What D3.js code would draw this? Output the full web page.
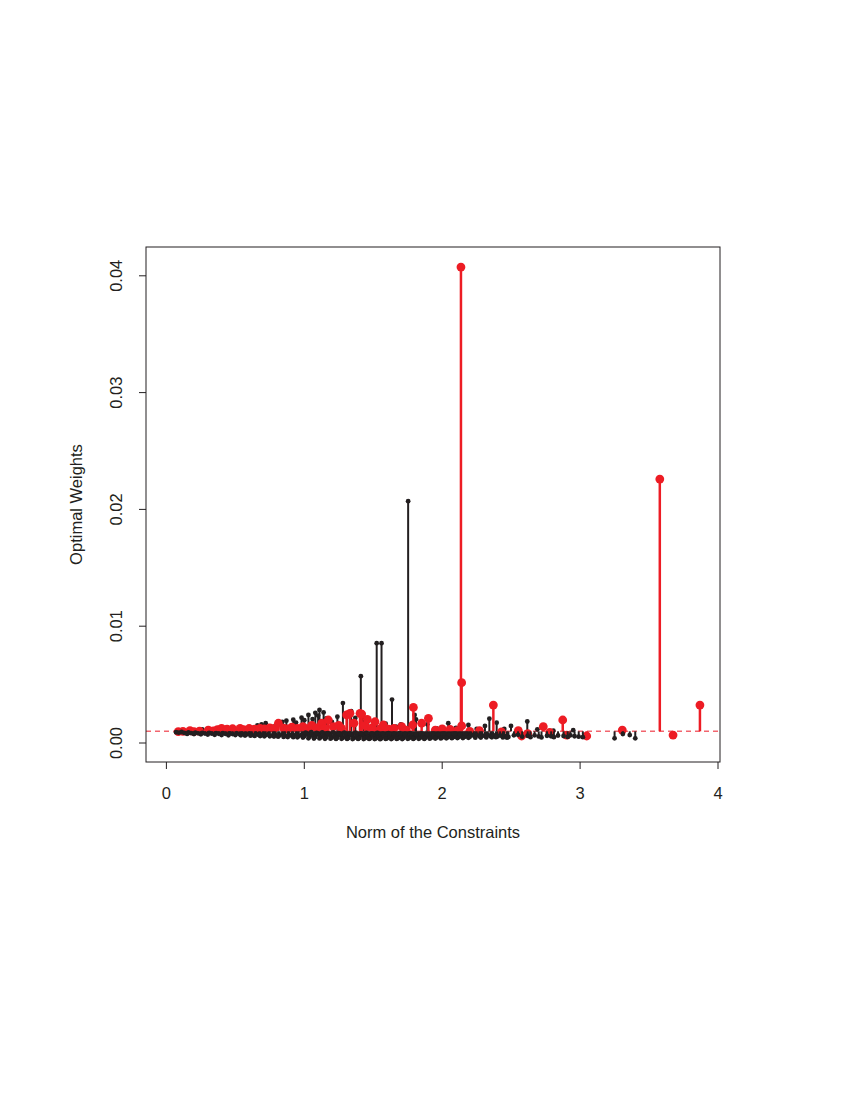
<!DOCTYPE html>
<html>
<head>
<meta charset="utf-8">
<script src="https://cdn.jsdelivr.net/npm/d3@7"></script>
<style>
  html, body { margin: 0; padding: 0; background: #fff; }
  svg { display: block; }
  text { font-family: "Liberation Sans", Arial, Helvetica, sans-serif; fill: #231f20; }
</style>
</head>
<body>
<svg id="chart" width="850" height="1100"></svg>
<script>
// ---------------- DATA ----------------
const xTicks = [0, 1, 2, 3, 4];
const yTicks = [0, 0.01, 0.02, 0.03, 0.04];
const yTickLabels = ["0.00", "0.01", "0.02", "0.03", "0.04"];
const xTitle = "Norm of the Constraints";
const yTitle = "Optimal Weights";
const baseline = 0.001; // uniform weight reference (dashed line)

// black points above the reference weight
const blackHighX = [0.26, 0.45, 0.52, 0.58, 0.62, 0.66, 0.69, 0.72, 0.78, 0.84, 0.87, 0.92, 0.94, 0.98, 1.00, 1.03, 1.06, 1.08, 1.10, 1.11, 1.14, 1.16, 1.20, 1.24, 1.28, 1.31, 1.34, 1.37, 1.41, 1.43, 1.46, 1.525, 1.56, 1.59, 1.636, 1.665, 1.70, 1.753, 1.80, 1.81, 1.892, 1.96, 2.044, 2.10, 2.19, 2.25, 2.31, 2.342, 2.395, 2.45, 2.499, 2.617, 2.69, 2.806, 2.95];
const blackHighY = [0.00117, 0.00112, 0.00118, 0.00125, 0.00130, 0.00150, 0.00160, 0.00169, 0.00140, 0.00180, 0.00191, 0.00200, 0.00175, 0.00217, 0.00195, 0.00240, 0.00205, 0.00258, 0.00235, 0.00283, 0.00262, 0.00210, 0.00180, 0.00225, 0.00342, 0.00240, 0.00272, 0.00215, 0.00572, 0.00200, 0.00185, 0.00855, 0.00855, 0.00165, 0.00372, 0.00140, 0.00160, 0.0207, 0.00240, 0.00203, 0.00160, 0.00126, 0.00169, 0.00130, 0.00154, 0.00120, 0.00146, 0.00208, 0.00174, 0.00120, 0.00146, 0.00184, 0.00117, 0.00105, 0.00110];

// black points below the reference weight (dense band)
const blackLowX = [
  0.07, 0.09, 0.11, 0.13, 0.16, 0.18, 0.21, 0.23, 0.26, 0.28, 0.31, 0.33, 0.36, 0.38, 0.41, 0.43, 0.46, 0.48,
  0.15, 0.20, 0.25, 0.30, 0.35, 0.40, 0.45,
  0.51, 0.53, 0.55, 0.58, 0.60, 0.62, 0.65, 0.67, 0.70, 0.72, 0.74, 0.77, 0.79, 0.82, 0.84, 0.86, 0.89, 0.91, 0.94, 0.96, 0.98,
  0.50, 0.54, 0.57, 0.61, 0.64, 0.68, 0.71, 0.75, 0.78, 0.81, 0.85, 0.88, 0.92, 0.95, 0.99,
  1.00, 1.02, 1.04, 1.06, 1.08, 1.10, 1.12, 1.14, 1.16, 1.18, 1.20, 1.22, 1.24, 1.26, 1.28, 1.30, 1.32, 1.34, 1.36, 1.38,
  1.40, 1.42, 1.44, 1.46, 1.48, 1.50, 1.52, 1.54, 1.56, 1.58, 1.60, 1.62, 1.64, 1.66, 1.68, 1.70, 1.72, 1.74, 1.76, 1.78,
  1.80, 1.82, 1.84, 1.86, 1.88, 1.90, 1.92, 1.94, 1.96, 1.98, 2.00, 2.02, 2.04, 2.06, 2.08, 2.10, 2.12, 2.14, 2.16, 2.18, 2.20,
  1.01, 1.05, 1.09, 1.13, 1.17, 1.21, 1.25, 1.29, 1.33, 1.37, 1.41, 1.45, 1.49, 1.53, 1.57, 1.61, 1.65, 1.69, 1.73, 1.77,
  1.81, 1.85, 1.89, 1.93, 1.97, 2.01, 2.05, 2.09, 2.13, 2.17, 2.21,
  1.03, 1.07, 1.11, 1.15, 1.19, 1.23, 1.27, 1.31, 1.35, 1.39, 1.43, 1.47, 1.51, 1.55, 1.59, 1.63, 1.67, 1.71, 1.75, 1.79,
  1.83, 1.87, 1.91, 1.95, 1.99, 2.03, 2.07, 2.11, 2.15, 2.19,
  2.23, 2.25, 2.27, 2.29, 2.31, 2.33, 2.35, 2.37, 2.40, 2.42, 2.45, 2.48, 2.52, 2.55, 2.58, 2.62, 2.64, 2.67, 2.70, 2.72,
  2.76, 2.79, 2.81, 2.84, 2.88, 2.91, 2.93, 2.96, 2.99, 3.02,
  2.24, 2.28, 2.32, 2.36, 2.39, 2.44, 2.47,
  3.25, 3.31, 3.36, 3.40
];
const blackLowY = [
  0.00092, 0.00088, 0.00094, 0.00086, 0.00090, 0.00084, 0.00089, 0.00083, 0.00087, 0.00081, 0.00086, 0.00080, 0.00085, 0.00079, 0.00084, 0.00078, 0.00083, 0.00077,
  0.00078, 0.00076, 0.00074, 0.00072, 0.00070, 0.00068, 0.00066,
  0.00082, 0.00074, 0.00080, 0.00072, 0.00079, 0.00070, 0.00078, 0.00069, 0.00076, 0.00068, 0.00075, 0.00066, 0.00074, 0.00065, 0.00073, 0.00064, 0.00072, 0.00062, 0.00071, 0.00060, 0.00070,
  0.00068, 0.00066, 0.00064, 0.00063, 0.00061, 0.00060, 0.00058, 0.00057, 0.00055, 0.00054, 0.00052, 0.00051, 0.00050, 0.00049, 0.00047,
  0.00058, 0.00075, 0.00056, 0.00068, 0.00052, 0.00072, 0.00050, 0.00066, 0.00048, 0.00070, 0.00046, 0.00064, 0.00045, 0.00068, 0.00044, 0.00062, 0.00043, 0.00066, 0.00042, 0.00060,
  0.00042, 0.00064, 0.00041, 0.00058, 0.00041, 0.00062, 0.00040, 0.00057, 0.00040, 0.00060, 0.00040, 0.00055, 0.00041, 0.00059, 0.00041, 0.00054, 0.00042, 0.00058, 0.00043, 0.00053,
  0.00043, 0.00057, 0.00044, 0.00052, 0.00045, 0.00056, 0.00046, 0.00051, 0.00047, 0.00055, 0.00048, 0.00052, 0.00049, 0.00056, 0.00050, 0.00054, 0.00051, 0.00057, 0.00052, 0.00058, 0.00053,
  0.00088, 0.00092, 0.00086, 0.00090, 0.00085, 0.00091, 0.00084, 0.00089, 0.00083, 0.00088, 0.00082, 0.00087, 0.00081, 0.00086, 0.00080, 0.00085, 0.00079, 0.00084, 0.00078, 0.00083,
  0.00077, 0.00082, 0.00076, 0.00081, 0.00075, 0.00080, 0.00074, 0.00079, 0.00073, 0.00078, 0.00072,
  0.00040, 0.00038, 0.00039, 0.00036, 0.00037, 0.00035, 0.00036, 0.00035, 0.00034, 0.00035, 0.00034, 0.00035, 0.00034, 0.00033, 0.00035, 0.00034, 0.00035, 0.00034, 0.00036, 0.00035,
  0.00036, 0.00035, 0.00037, 0.00038, 0.00039, 0.00040, 0.00041, 0.00042, 0.00043, 0.00044,
  0.00062, 0.00070, 0.00058, 0.00066, 0.00060, 0.00072, 0.00057, 0.00068, 0.00055, 0.00064, 0.00060, 0.00052, 0.00066, 0.00070, 0.00054, 0.00062, 0.00050, 0.00066, 0.00056, 0.00048,
  0.00062, 0.00058, 0.00050, 0.00064, 0.00060, 0.00052, 0.00066, 0.00058, 0.00054, 0.00050,
  0.00046, 0.00047, 0.00048, 0.00049, 0.00050, 0.00048, 0.00046,
  0.00040, 0.00077, 0.00068, 0.00040
];

// red points
const redX = [0.086, 0.12, 0.171, 0.20, 0.24, 0.304, 0.34, 0.37, 0.40, 0.44, 0.48, 0.534, 0.56, 0.60, 0.64, 0.679, 0.71, 0.75, 0.78, 0.812, 0.85, 0.88, 0.91, 0.95, 0.99, 1.02, 1.054, 1.09, 1.126, 1.15, 1.174, 1.21, 1.25, 1.27, 1.307, 1.331, 1.36, 1.404, 1.416, 1.44, 1.457, 1.49, 1.513, 1.55, 1.573, 1.61, 1.65, 1.706, 1.74, 1.786, 1.791, 1.851, 1.90, 1.95, 2.00, 2.057, 2.11, 2.141, 2.141, 2.136, 2.20, 2.27, 2.371, 2.43, 2.552, 2.576, 2.62, 2.733, 2.78, 2.874, 2.903, 3.048, 3.306, 3.578, 3.674, 3.869];
const redY = [0.00097, 0.00100, 0.00105, 0.00098, 0.00102, 0.00111, 0.00104, 0.00115, 0.00126, 0.00118, 0.00122, 0.00126, 0.00115, 0.00124, 0.00118, 0.00126, 0.00120, 0.00130, 0.00122, 0.00169, 0.00128, 0.00120, 0.00135, 0.00125, 0.00140, 0.00122, 0.00150, 0.00130, 0.00169, 0.00125, 0.00197, 0.00140, 0.00150, 0.00125, 0.00240, 0.00254, 0.00170, 0.00254, 0.00248, 0.00150, 0.00203, 0.00130, 0.00182, 0.00120, 0.00154, 0.00118, 0.00125, 0.00140, 0.00110, 0.00154, 0.00305, 0.00169, 0.00211, 0.00110, 0.00120, 0.00117, 0.00105, 0.00146, 0.00516, 0.04075, 0.00100, 0.00105, 0.00325, 0.00095, 0.00105, 0.00060, 0.00080, 0.00140, 0.00090, 0.00197, 0.00068, 0.00060, 0.00111, 0.0226, 0.00068, 0.00325];

// ---------------- CHART ----------------
const svg = d3.select("#chart");
const ink = "#231f20";
const red = "#ed1c24";

const box = { left: 146, right: 720, top: 247, bottom: 762 };
const x = d3.scaleLinear().domain([0, 4]).range([166.4, 718]);
const y = d3.scaleLinear().domain([0, 0.04]).range([743, 275.8]);

const toPts = (xs, ys) => xs.map((v, i) => ({ x: v, y: ys[i] }));
const blackHigh = toPts(blackHighX, blackHighY);
const blackLow = toPts(blackLowX, blackLowY);
const reds = toPts(redX, redY);

const plot = svg.append("g");
svg.append("clipPath").attr("id", "clip").append("rect")
  .attr("x", box.left).attr("y", box.top).attr("width", box.right - box.left).attr("height", box.bottom - box.top);
plot.attr("clip-path", "url(#clip)");

// reference line
plot.append("line")
  .attr("x1", box.left).attr("x2", box.right)
  .attr("y1", y(baseline)).attr("y2", y(baseline))
  .attr("stroke", "#f04a55").attr("stroke-opacity", 0.85).attr("stroke-width", 1.6)
  .attr("stroke-dasharray", "5,4");

function drawGroup(data, color, sw, r) {
  const g = plot.append("g");
  g.selectAll("line").data(data).join("line")
    .attr("x1", d => x(d.x)).attr("x2", d => x(d.x))
    .attr("y1", y(baseline)).attr("y2", d => y(d.y))
    .attr("stroke", color).attr("stroke-width", sw);
  g.selectAll("circle").data(data).join("circle")
    .attr("cx", d => x(d.x)).attr("cy", d => y(d.y))
    .attr("r", r).attr("fill", color);
}
drawGroup(blackHigh, ink, 2, 2.4);
drawGroup(reds, red, 2.5, 4.4);
drawGroup(blackLow, ink, 2, 2.4);

// box
svg.append("rect")
  .attr("x", box.left).attr("y", box.top)
  .attr("width", box.right - box.left).attr("height", box.bottom - box.top)
  .attr("fill", "none").attr("stroke", ink).attr("stroke-width", 1);

// x axis
const xAxis = svg.append("g");
xAxis.selectAll("line").data(xTicks).join("line")
  .attr("x1", d => x(d)).attr("x2", d => x(d))
  .attr("y1", box.bottom).attr("y2", box.bottom + 7)
  .attr("stroke", ink).attr("stroke-width", 1);
xAxis.selectAll("text").data(xTicks).join("text")
  .attr("x", d => x(d)).attr("y", 799)
  .attr("text-anchor", "middle").attr("font-size", 16.5)
  .text(d => d);

// y axis
const yAxis = svg.append("g");
yAxis.selectAll("line").data(yTicks).join("line")
  .attr("x1", box.left).attr("x2", box.left - 7)
  .attr("y1", d => y(d)).attr("y2", d => y(d))
  .attr("stroke", ink).attr("stroke-width", 1);
yAxis.selectAll("text").data(yTicks).join("text")
  .attr("transform", d => `translate(122,${y(d)}) rotate(-90)`)
  .attr("text-anchor", "middle").attr("font-size", 16.5)
  .text((d, i) => yTickLabels[i]);

// titles
svg.append("text")
  .attr("x", (box.left + box.right) / 2).attr("y", 838)
  .attr("text-anchor", "middle").attr("font-size", 16.5)
  .text(xTitle);
svg.append("text")
  .attr("transform", `translate(82,${(box.top + box.bottom) / 2}) rotate(-90)`)
  .attr("text-anchor", "middle").attr("font-size", 16.5)
  .text(yTitle);
</script>
</body>
</html>
